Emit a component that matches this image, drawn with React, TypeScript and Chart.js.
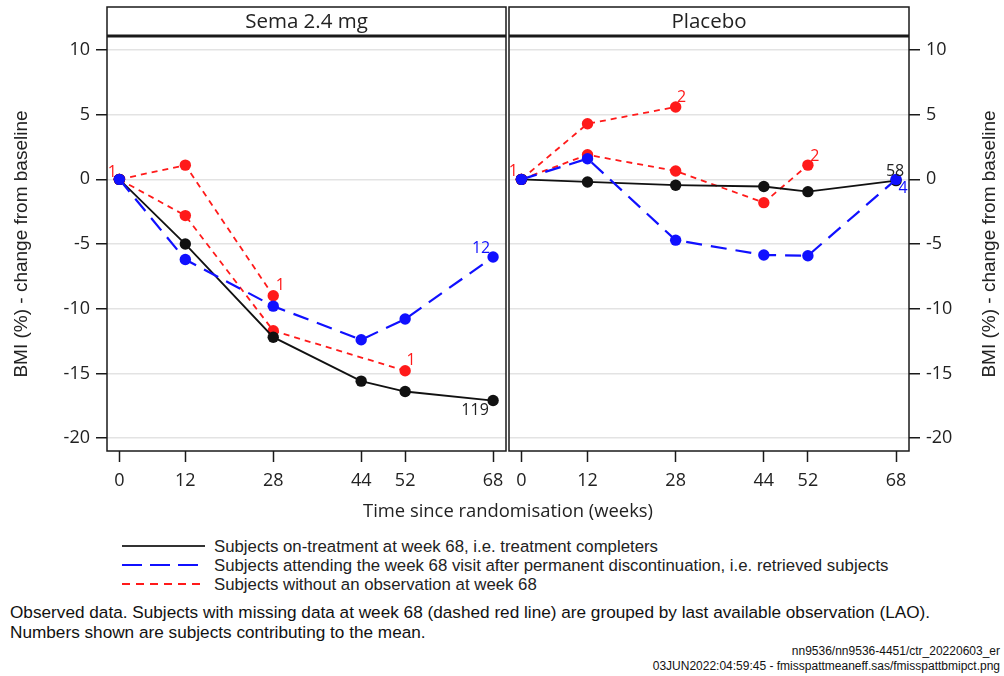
import React, { useEffect, useRef } from "react";
import { Chart, registerables } from "chart.js";

Chart.register(...registerables);

// ---------- data ----------
const WEEKS = [0, 12, 28, 44, 52, 68];
const X_TICKS = [0, 12, 28, 44, 52, 68];
const Y_TICKS = [10, 5, 0, -5, -10, -15, -20];
const PANEL_TITLES = ["Sema 2.4 mg", "Placebo"];

// Sema 2.4 mg
const SEMA_COMPLETERS = [0, -5.0, -12.2, -15.6, -16.4, -17.1];
const SEMA_RETRIEVED = [0, -6.2, -9.8, -12.4, -10.8, -6.0];
const SEMA_LAO_WK28 = [0, 1.1, -9.0, null, null, null];
const SEMA_LAO_WK52 = [0, -2.8, -11.7, null, -14.8, null];
const SEMA_LAO_WK0 = [0, null, null, null, null, null];
const SEMA_N = ["119", "12", "1", "1", "1"]; // completers, retrieved, lao28, lao52, lao0

// Placebo
const PBO_COMPLETERS = [0, -0.2, -0.45, -0.55, -0.95, -0.1];
const PBO_RETRIEVED = [0, 1.6, -4.7, -5.85, -5.9, 0];
const PBO_LAO_WK28 = [0, 4.3, 5.6, null, null, null];
const PBO_LAO_WK52 = [0, 1.9, 0.65, -1.8, 1.1, null];
const PBO_LAO_WK0 = [0, null, null, null, null, null];
const PBO_N = ["58", "4", "2", "2", "1"];

const LEGEND_LABELS = [
  "Subjects on-treatment at week 68, i.e. treatment completers",
  "Subjects attending the week 68 visit after permanent discontinuation, i.e. retrieved subjects",
  "Subjects without an observation at week 68",
];
const FOOTNOTES = [
  "Observed data. Subjects with missing data at week 68 (dashed red line) are grouped by last available observation (LAO).",
  "Numbers shown are subjects contributing to the mean.",
];
const SOURCE_LINES = [
  "nn9536/nn9536-4451/ctr_20220603_er",
  "03JUN2022:04:59:45 - fmisspattmeaneff.sas/fmisspattbmipct.png",
];
const X_TITLE = "Time since randomisation (weeks)";
const Y_TITLE = "BMI (%) - change from baseline";

// ---------- styling ----------
const BLACK = "#111111";
const BLUE = "#1010ff";
const RED = "#ff1a1a";
const TXT = "#222222";
const CHART_FONT = '"Open Sans", "DejaVu Sans", sans-serif';
const NOTE_FONT = '"Liberation Sans", Arial, sans-serif';

const CANVAS_H = 500;
const AREA_TOP = 38;
const AREA_BOTTOM = 451;
const FRAME_TOP = 7;
const HEADER_LINE = 36;

type Vals = (number | null)[];

const toPoints = (vals: Vals) =>
  WEEKS.map((w, i) => ({ x: w, y: vals[i] })).filter((p) => p.y !== null);

const lastWeek = (vals: Vals) => {
  let w = 0;
  vals.forEach((v, i) => {
    if (v !== null) w = WEEKS[i];
  });
  return w;
};

function buildDatasets(
  completers: Vals,
  retrieved: Vals,
  lao28: Vals,
  lao52: Vals,
  lao0: Vals,
  n: string[],
  offsets: number[][]
) {
  const base = { pointRadius: 5.7, pointHoverRadius: 5.7, pointBorderWidth: 0, tension: 0, fill: false, clip: false };
  return [
    {
      ...base,
      label: "retrieved",
      data: toPoints(retrieved),
      borderColor: BLUE,
      backgroundColor: BLUE,
      pointBackgroundColor: BLUE,
      borderWidth: 2.2,
      borderDash: [16, 9],
      order: 0,
      countLabel: { week: lastWeek(retrieved), text: n[1], dx: offsets[1][0], dy: offsets[1][1] },
    },
    {
      ...base,
      label: "completers",
      data: toPoints(completers),
      borderColor: BLACK,
      backgroundColor: BLACK,
      pointBackgroundColor: BLACK,
      borderWidth: 1.8,
      order: 1,
      countLabel: { week: lastWeek(completers), text: n[0], dx: offsets[0][0], dy: offsets[0][1] },
    },
    ...[lao28, lao52, lao0].map((vals, k) => ({
      ...base,
      label: "lao" + k,
      data: toPoints(vals),
      borderColor: RED,
      backgroundColor: RED,
      pointBackgroundColor: RED,
      borderWidth: 1.8,
      borderDash: [6, 5],
      order: 2,
      countLabel: { week: lastWeek(vals), text: n[2 + k], dx: offsets[2 + k][0], dy: offsets[2 + k][1] },
    })),
  ];
}

const countLabelPlugin = {
  id: "countLabels",
  afterDatasetsDraw(chart: any) {
    const ctx = chart.ctx;
    chart.data.datasets.forEach((ds: any, di: number) => {
      const lab = ds.countLabel;
      if (!lab) return;
      const meta = chart.getDatasetMeta(di);
      const idx = ds.data.findIndex((p: any) => p.x === lab.week);
      const el = meta.data[idx];
      if (!el) return;
      ctx.save();
      ctx.font = `16px ${CHART_FONT}`;
      ctx.fillStyle = ds.borderColor === BLACK ? TXT : ds.borderColor;
      ctx.textAlign = "center";
      ctx.textBaseline = "middle";
      ctx.fillText(lab.text, el.x + lab.dx, el.y + lab.dy);
      ctx.restore();
    });
  },
};

const panelFramePlugin = {
  id: "panelFrame",
  beforeDraw(chart: any) {
    const ctx = chart.ctx;
    ctx.save();
    ctx.fillStyle = "#ffffff";
    ctx.fillRect(0, 0, chart.width, chart.height);
    ctx.restore();
  },
  afterDraw(chart: any, _args: any, opts: any) {
    const { left, right, bottom } = chart.chartArea;
    const ctx = chart.ctx;
    ctx.save();
    ctx.strokeStyle = "#1a1a1a";
    ctx.lineWidth = 1.5;
    ctx.strokeRect(left, FRAME_TOP, right - left, bottom - FRAME_TOP);
    ctx.lineWidth = 3;
    ctx.beginPath();
    ctx.moveTo(left, HEADER_LINE);
    ctx.lineTo(right, HEADER_LINE);
    ctx.stroke();
    ctx.fillStyle = TXT;
    ctx.font = `20.5px ${CHART_FONT}`;
    ctx.textAlign = "center";
    ctx.textBaseline = "middle";
    ctx.fillText(opts.title, (left + right) / 2, (FRAME_TOP + HEADER_LINE) / 2 + 0.5);
    ctx.restore();
  },
};

function makeConfig(datasets: any[], title: string, side: "left" | "right", yWidth: number, pad: any) {
  return {
    type: "line",
    data: { datasets },
    plugins: [panelFramePlugin, countLabelPlugin],
    options: {
      animation: false,
      responsive: false,
      devicePixelRatio: 1,
      events: [],
      layout: { padding: pad, autoPadding: false },
      plugins: {
        legend: { display: false },
        tooltip: { enabled: false },
        title: { display: false },
        panelFrame: { title },
      },
      scales: {
        x: {
          type: "linear",
          min: -2.25,
          max: 70.35,
          afterBuildTicks: (s: any) => {
            s.ticks = X_TICKS.map((v) => ({ value: v }));
          },
          afterFit: (s: any) => {
            s.height = CANVAS_H - AREA_BOTTOM;
            s.paddingLeft = 0;
            s.paddingRight = 0;
            s.paddingTop = 0;
            s.paddingBottom = 0;
          },
          grid: {
            display: true,
            drawOnChartArea: false,
            drawTicks: true,
            tickLength: 11,
            tickColor: "#1a1a1a",
            tickWidth: 1.5,
          },
          border: { display: false },
          ticks: {
            font: { family: CHART_FONT, size: 18 },
            color: TXT,
            padding: 8,
            maxRotation: 0,
            autoSkip: false,
            callback: (v: any) => String(v),
          },
        },
        y: {
          type: "linear",
          position: side,
          min: -21,
          max: 10.93,
          afterBuildTicks: (s: any) => {
            s.ticks = Y_TICKS.map((v) => ({ value: v }));
          },
          afterFit: (s: any) => {
            s.width = yWidth;
            s.paddingLeft = 0;
            s.paddingRight = 0;
            s.paddingTop = 0;
            s.paddingBottom = 0;
          },
          grid: {
            color: "#e3e3e3",
            lineWidth: 1.5,
            drawTicks: true,
            tickLength: 11,
            tickColor: "#1a1a1a",
            tickWidth: 1.5,
          },
          border: { display: false },
          ticks: {
            font: { family: CHART_FONT, size: 18 },
            color: TXT,
            padding: 6,
            autoSkip: false,
            callback: (v: any) => String(v),
          },
        },
      },
    },
  };
}

function Panel(props: { config: any; left: number; width: number }) {
  const ref = useRef<HTMLCanvasElement | null>(null);
  useEffect(() => {
    if (!ref.current) return;
    const chart = new Chart(ref.current, props.config);
    return () => chart.destroy();
  }, []);
  return (
    <canvas
      ref={ref}
      width={props.width}
      height={CANVAS_H}
      style={{ position: "absolute", left: props.left, top: 0, width: props.width, height: CANVAS_H }}
    />
  );
}

function LegendLine(props: { color: string; dash?: string; width: number }) {
  return (
    <svg width={84} height={18} style={{ position: "absolute", left: 0, top: 0 }}>
      <line x1={0} y1={9} x2={83} y2={9} stroke={props.color} strokeWidth={props.width} strokeDasharray={props.dash} />
    </svg>
  );
}

export default function App() {
  const semaDs = buildDatasets(
    SEMA_COMPLETERS,
    SEMA_RETRIEVED,
    SEMA_LAO_WK28,
    SEMA_LAO_WK52,
    SEMA_LAO_WK0,
    SEMA_N,
    [
      [-18, 10],
      [-12, -9],
      [7, -10],
      [6, -10],
      [-7, -7],
    ]
  );
  const pboDs = buildDatasets(
    PBO_COMPLETERS,
    PBO_RETRIEVED,
    PBO_LAO_WK28,
    PBO_LAO_WK52,
    PBO_LAO_WK0,
    PBO_N,
    [
      [-1, -9],
      [7, 9],
      [6, -10],
      [7, -9],
      [-8, -8],
    ]
  );
  const leftCfg = makeConfig(semaDs, PANEL_TITLES[0], "left", 107, { top: AREA_TOP, left: 0, right: 2, bottom: 0 });
  const rightCfg = makeConfig(pboDs, PANEL_TITLES[1], "right", 95, { top: AREA_TOP, left: 1, right: 0, bottom: 0 });

  const legendItems = [
    { color: "#333333", dash: undefined, width: 2 },
    { color: BLUE, dash: "20 8", width: 2.2 },
    { color: RED, dash: "8 6", width: 2 },
  ];

  const yTitleStyle = (cx: number): React.CSSProperties => ({
    position: "absolute",
    left: cx - 200,
    top: 244 - 12,
    width: 400,
    height: 24,
    lineHeight: "24px",
    textAlign: "center",
    transform: "rotate(-90deg)",
    font: `19px ${NOTE_FONT}`,
    color: TXT,
    whiteSpace: "nowrap",
  });

  return (
    <div style={{ position: "absolute", left: 0, top: 0, width: 1004, height: 676, background: "#fff", overflow: "hidden" }}>
      <Panel config={leftCfg} left={0} width={508} />
      <Panel config={rightCfg} left={508} width={496} />

      <div style={yTitleStyle(22)}>{Y_TITLE}</div>
      <div style={yTitleStyle(990)}>{Y_TITLE}</div>

      <div
        style={{
          position: "absolute",
          left: 308,
          top: 497,
          width: 400,
          height: 24,
          lineHeight: "24px",
          textAlign: "center",
          font: `18.4px ${CHART_FONT}`,
          color: TXT,
          whiteSpace: "nowrap",
        }}
      >
        {X_TITLE}
      </div>

      {LEGEND_LABELS.map((t, i) => (
        <div key={i} style={{ position: "absolute", left: 122, top: 546 + i * 19 - 9, height: 18, width: 820 }}>
          <LegendLine {...legendItems[i]} />
          <div
            style={{
              position: "absolute",
              left: 92,
              top: 0,
              lineHeight: "18px",
              font: `16.8px ${NOTE_FONT}`,
              color: TXT,
              whiteSpace: "nowrap",
            }}
          >
            {t}
          </div>
        </div>
      ))}

      {FOOTNOTES.map((t, i) => (
        <div
          key={i}
          style={{
            position: "absolute",
            left: 10,
            top: 612 + i * 20 - 10,
            lineHeight: "20px",
            font: `17.2px ${NOTE_FONT}`,
            color: "#111",
            whiteSpace: "nowrap",
          }}
        >
          {t}
        </div>
      ))}

      {SOURCE_LINES.map((t, i) => (
        <div
          key={i}
          style={{
            position: "absolute",
            right: 4,
            top: 651 + i * 15 - 7,
            lineHeight: "14px",
            font: `12px ${NOTE_FONT}`,
            color: "#111",
            whiteSpace: "nowrap",
            textAlign: "right",
          }}
        >
          {t}
        </div>
      ))}
    </div>
  );
}
